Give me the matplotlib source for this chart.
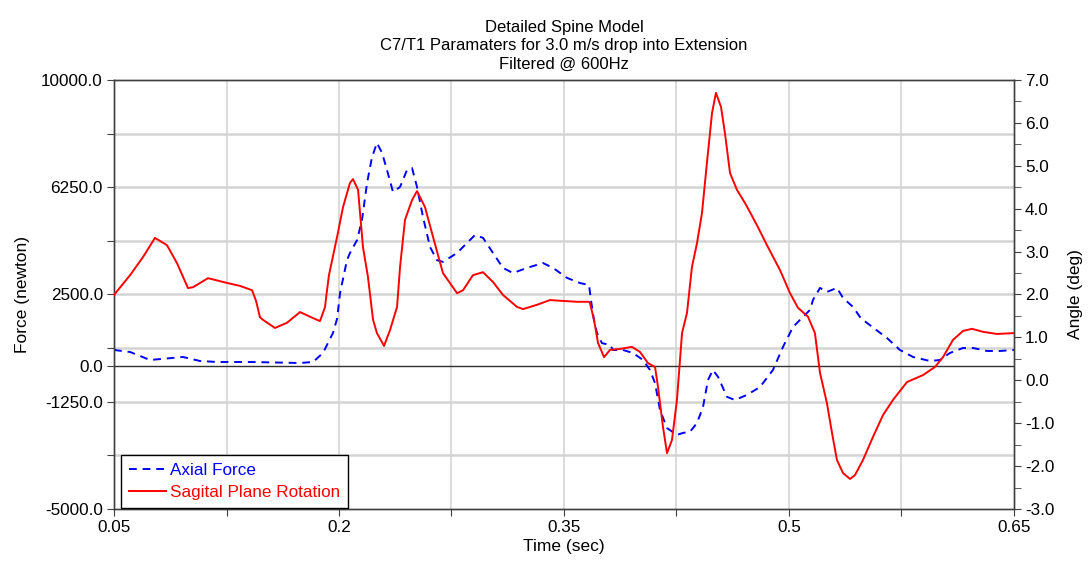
import matplotlib
matplotlib.use("Agg")
import matplotlib.pyplot as plt

plt.rcParams['font.family'] = ['Liberation Sans', 'DejaVu Sans']

# Axial force (left axis, newton)
force_t = [0.05, 0.0607, 0.074, 0.096, 0.1073, 0.1187, 0.1407, 0.174, 0.1827, 0.1893,
           0.196, 0.1987, 0.2007, 0.2053, 0.2073, 0.212, 0.2153, 0.2187, 0.222, 0.2253,
           0.2287, 0.232, 0.236, 0.2407, 0.2453, 0.2487, 0.252, 0.256, 0.2607, 0.2653,
           0.2693, 0.2787, 0.2853, 0.2907, 0.296, 0.3027, 0.3093, 0.316, 0.3253, 0.336,
           0.3427, 0.352, 0.3607, 0.3667, 0.368, 0.370, 0.372, 0.3753, 0.3807, 0.3827,
           0.3893, 0.396, 0.4027, 0.4073, 0.4107, 0.414, 0.4187, 0.4253, 0.4293, 0.434,
           0.4387, 0.4427, 0.446, 0.4493, 0.4527, 0.4587, 0.464, 0.472, 0.4807, 0.4893,
           0.496, 0.5027, 0.5093, 0.514, 0.516, 0.5207, 0.5253, 0.532, 0.536, 0.5427,
           0.5473, 0.552, 0.5653, 0.574, 0.5827, 0.594, 0.6007, 0.6073, 0.616, 0.6227,
           0.632, 0.6407, 0.65]
force = [560, 490, 210, 315, 175, 140, 140, 105, 140, 455,
         1155, 1650, 2550, 3700, 3950, 4400, 5100, 6400, 7300, 7800,
         7450, 6850, 6085, 6260, 6850, 6920, 6260, 5210, 4160, 3700,
         3640, 3950, 4300, 4580, 4480, 3950, 3430, 3250, 3430, 3600,
         3430, 3080, 2900, 2830, 2300, 1600, 1150, 800, 735, 560,
         560, 455, 210, -140, -600, -1540, -2170, -2410, -2340, -2300,
         -1990, -1430, -490, -140, -380, -1080, -1190, -1010, -735, -140,
         665, 1365, 1715, 1960, 2310, 2730, 2590, 2730, 2380, 2065,
         1715, 1505, 980, 560, 315, 175, 210, 455, 630, 630,
         525, 525, 560]

# Sagital plane rotation (right axis, deg)
angle_t = [0.05, 0.0607, 0.0693, 0.0773, 0.0853, 0.092, 0.0993, 0.1027, 0.1127, 0.1253,
           0.134, 0.142, 0.1447, 0.1473, 0.1493, 0.1573, 0.1653, 0.174, 0.1827, 0.1873,
           0.1907, 0.1913, 0.1933, 0.1987, 0.2027, 0.2073, 0.2093, 0.2127, 0.216, 0.2193,
           0.2227, 0.2253, 0.23, 0.234, 0.2387, 0.2407, 0.244, 0.2487, 0.252, 0.2573,
           0.2627, 0.2693, 0.2787, 0.2827, 0.2893, 0.296, 0.3027, 0.3093, 0.3187, 0.3227,
           0.332, 0.3407, 0.3493, 0.3587, 0.3667, 0.3673, 0.370, 0.3727, 0.3767, 0.3807,
           0.3873, 0.3953, 0.4007, 0.406, 0.4107, 0.4127, 0.416, 0.4187, 0.422, 0.4253,
           0.4287, 0.432, 0.4353, 0.4387, 0.442, 0.4453, 0.4487, 0.4513, 0.4547, 0.4573,
           0.4607, 0.4653, 0.4707, 0.474, 0.4793, 0.4853, 0.494, 0.5007, 0.506, 0.5127,
           0.5173, 0.5207, 0.5253, 0.5287, 0.532, 0.536, 0.5407, 0.544, 0.5493, 0.556,
           0.5627, 0.5693, 0.5787, 0.5893, 0.5973, 0.6027, 0.6093, 0.616, 0.622, 0.6293,
           0.6387, 0.65]
angle = [1.99, 2.45, 2.87, 3.32, 3.15, 2.73, 2.15, 2.17, 2.38, 2.27,
         2.2, 2.1, 1.85, 1.47, 1.41, 1.22, 1.34, 1.59, 1.45, 1.38,
         1.71, 1.9, 2.45, 3.34, 4.04, 4.6, 4.69, 4.44, 3.1, 2.41,
         1.41, 1.1, 0.8, 1.17, 1.71, 2.64, 3.74, 4.2, 4.41, 4.04,
         3.34, 2.5, 2.03, 2.1, 2.45, 2.52, 2.29, 1.99, 1.71, 1.66,
         1.76, 1.87, 1.85, 1.83, 1.83, 1.8, 1.41, 0.87, 0.54, 0.71,
         0.73, 0.78, 0.66, 0.4, 0.31, -0.16, -1.09, -1.7, -1.39, -0.46,
         1.1, 1.57, 2.64, 3.2, 3.9, 5.07, 6.23, 6.7, 6.37, 5.76,
         4.83, 4.44, 4.13, 3.92, 3.57, 3.15, 2.57, 2.03, 1.69, 1.48,
         1.1, 0.17, -0.53, -1.23, -1.86, -2.16, -2.3, -2.21, -1.86, -1.32,
         -0.81, -0.46, -0.04, 0.12, 0.31, 0.54, 0.94, 1.15, 1.2, 1.13,
         1.08, 1.1]

x_ticks = [0.05, 0.125, 0.2, 0.275, 0.35, 0.425, 0.5, 0.575, 0.65]
x_labels = ['0.05', '', '0.2', '', '0.35', '', '0.5', '', '0.65']
force_ticks = [-5000, -3125, -1250, 0, 625, 2500, 4375, 6250, 8125, 10000]
force_labels = ['-5000.0', '', '-1250.0', '0.0', '', '2500.0', '', '6250.0', '', '10000.0']
force_grid = [-3125, -1250, 625, 2500, 4375, 6250, 8125]
angle_ticks = [-3, -2, -1, 0, 1, 2, 3, 4, 5, 6, 7]

fig = plt.figure(figsize=(10.89, 5.66), dpi=100)
ax = fig.add_axes([0.1047, 0.1007, 0.8264, 0.758])
ax2 = ax.twinx()

spine_col = '#404040'
grid_col = '#d4d4d4'

for g in x_ticks[1:-1]:
    ax.axvline(g, color=grid_col, lw=1.2, zorder=0)
for g in force_grid:
    ax.axhline(g, color=grid_col, lw=1.8, zorder=0)
ax.axhline(0, color='#303030', lw=1.0, zorder=1)

l1, = ax.plot(force_t, force, color='blue', lw=1.4, ls=(0, (4, 3)), label='Axial Force', zorder=3)
l2, = ax2.plot(angle_t, angle, color='red', lw=1.4, label='Sagital Plane Rotation', zorder=3)

ax.set_xlim(0.05, 0.65)
ax.set_ylim(-5000, 10000)
ax2.set_ylim(-3, 7)

ax.set_xticks(x_ticks)
ax.set_xticklabels(x_labels)
ax.set_yticks(force_ticks)
ax.set_yticklabels(force_labels)
ax2.set_yticks(angle_ticks)
ax2.set_yticklabels([f'{v:.1f}' for v in angle_ticks])
ax2.set_yticks([v + 0.5 for v in angle_ticks[:-1]], minor=True)

for a in (ax, ax2):
    for s in a.spines.values():
        s.set_color(spine_col)
        s.set_linewidth(1.0)
    a.tick_params(axis='both', which='both', direction='out', length=5,
                  color=spine_col, labelsize=12.3, pad=3)
ax2.tick_params(axis='y', which='minor', length=5)

ax.set_xlabel('Time (sec)', fontsize=12.5, labelpad=3)
ax.set_ylabel('Force (newton)', fontsize=12.5, labelpad=8)
ax2.set_ylabel('Angle (deg)', fontsize=12.5, labelpad=10)

ax.set_title('Detailed Spine Model\nC7/T1 Paramaters for 3.0 m/s drop into Extension\nFiltered @ 600Hz',
             fontsize=12, linespacing=1.3, pad=8)

leg = ax2.legend(handles=[l1, l2], loc='lower left', bbox_to_anchor=(0.008, 0.002),
                 borderaxespad=0, fontsize=12.3, fancybox=False, framealpha=1,
                 edgecolor='black', handlelength=2.2, handletextpad=0.2,
                 borderpad=0.45, labelspacing=0.45)
leg.get_frame().set_linewidth(1.0)
for txt, col in zip(leg.get_texts(), ['blue', 'red']):
    txt.set_color(col)

fig.savefig('out.png', dpi=100)
